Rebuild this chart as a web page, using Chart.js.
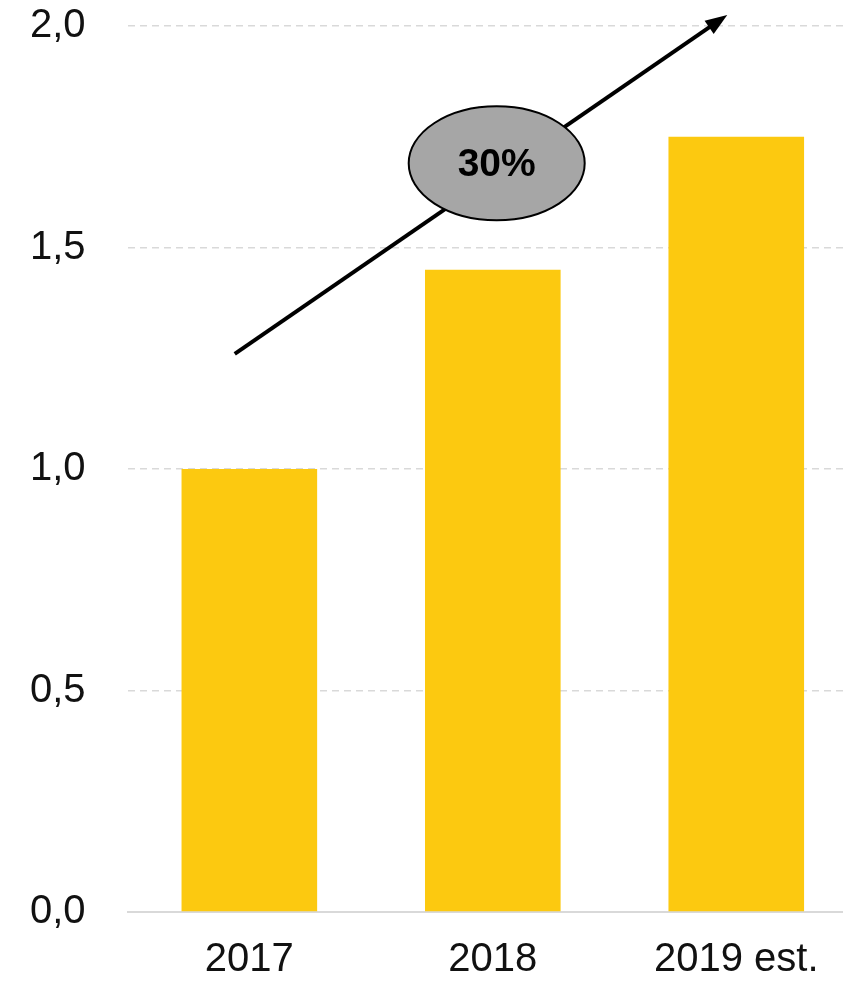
<!DOCTYPE html>
<html>
<head>
<meta charset="utf-8">
<script src="https://cdn.jsdelivr.net/npm/chart.js@4/dist/chart.umd.min.js"></script>
<style>
  html, body { margin: 0; padding: 0; background: #fff; overflow: hidden; }
  /* plot runs a little past the right edge, like the original crop */
  #wrap { width: 858px; height: 986px; }
</style>
</head>
<body>
<div id="wrap"><canvas id="chart"></canvas></div>
<script>
/* ---------- data ---------- */
const categories = ["2017", "2018", "2019 est."];
const values = [1.0, 1.45, 1.75];
const yTickLabels = ["0,0", "0,5", "1,0", "1,5", "2,0"];

/* growth arrow, in data units (x = category index, y = value) */
const arrowFrom = [-0.06, 1.26];
const arrowTo = [1.963, 2.025];
const growthLabel = "30%";
const growthAt = [1.016, 1.69];

const BAR = "#FCC910";
const GRID = "#d9d9d9";
const FONT = "'Liberation Sans', Arial, sans-serif";

/* ---------- arrow + ellipse ---------- */
const growthArrow = {
  id: "growthArrow",
  afterDatasetsDraw(chart) {
    const { ctx, scales: { x, y } } = chart;
    const x1 = x.getPixelForValue(arrowFrom[0]);
    const y1 = y.getPixelForValue(arrowFrom[1]);
    const x2 = x.getPixelForValue(arrowTo[0]);
    const y2 = y.getPixelForValue(arrowTo[1]);
    const ang = Math.atan2(y2 - y1, x2 - x1);
    const head = 22, half = 8;

    ctx.save();
    ctx.strokeStyle = "#000";
    ctx.fillStyle = "#000";
    ctx.lineWidth = 4;
    ctx.beginPath();
    ctx.moveTo(x1, y1);
    ctx.lineTo(x2 - Math.cos(ang) * (head - 4), y2 - Math.sin(ang) * (head - 4));
    ctx.stroke();

    ctx.beginPath();
    ctx.moveTo(x2, y2);
    ctx.lineTo(x2 - Math.cos(ang) * head - Math.sin(ang) * half,
               y2 - Math.sin(ang) * head + Math.cos(ang) * half);
    ctx.lineTo(x2 - Math.cos(ang) * head + Math.sin(ang) * half,
               y2 - Math.sin(ang) * head - Math.cos(ang) * half);
    ctx.closePath();
    ctx.fill();

    // label bubble
    const cx = x.getPixelForValue(growthAt[0]);
    const cy = y.getPixelForValue(growthAt[1]);
    ctx.beginPath();
    ctx.ellipse(cx, cy, 88, 57, 0, 0, Math.PI * 2);
    ctx.fillStyle = "#a6a6a6";
    ctx.fill();
    ctx.lineWidth = 2;
    ctx.strokeStyle = "#000";
    ctx.stroke();

    ctx.fillStyle = "#000";
    ctx.font = "bold 39px " + FONT;
    ctx.textAlign = "center";
    ctx.textBaseline = "middle";
    ctx.fillText(growthLabel, cx, cy + 2);
    ctx.restore();
  }
};

/* ---------- chart ---------- */
new Chart(document.getElementById("chart"), {
  type: "bar",
  data: {
    labels: categories,
    datasets: [{
      data: values,
      backgroundColor: BAR,
      barPercentage: 1,
      categoryPercentage: 0.557
    }]
  },
  options: {
    responsive: true,
    maintainAspectRatio: false,
    animation: false,
    layout: { padding: { left: 28, right: 0, top: 0, bottom: 0 } },
    plugins: {
      legend: { display: false },
      tooltip: { enabled: false }
    },
    scales: {
      x: {
        grid: { display: false, drawTicks: true, tickLength: 22, tickColor: "transparent" },
        border: { display: true, color: GRID, width: 2 },
        ticks: {
          color: "#111",
          padding: 2,
          font: { family: FONT, size: 40 }
        }
      },
      y: {
        min: 0,
        max: 2,
        grid: { color: GRID, lineWidth: 1.5, drawTicks: true, tickLength: 40, tickColor: "transparent" },
        border: { display: false, dash: [7, 5] },
        ticks: {
          stepSize: 0.5,
          color: "#111",
          padding: 2,
          font: { family: FONT, size: 40 },
          callback: (v, i) => yTickLabels[i]
        }
      }
    }
  },
  plugins: [growthArrow]
});
</script>
</body>
</html>
